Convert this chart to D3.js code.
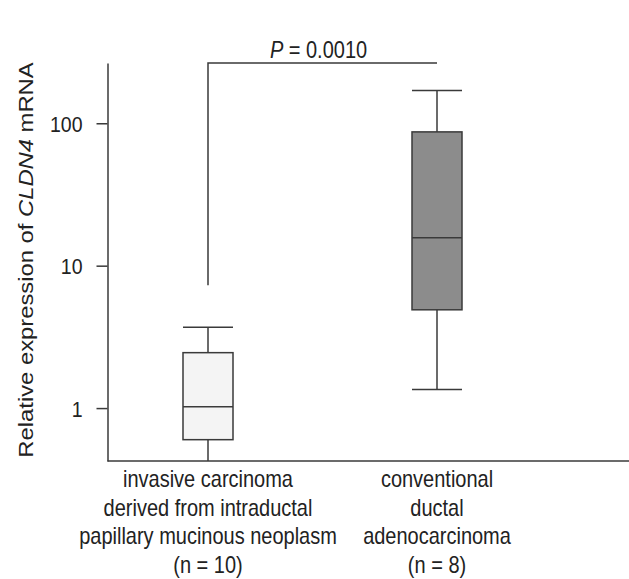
<!DOCTYPE html>
<html>
<head>
<meta charset="utf-8">
<script src="https://cdn.jsdelivr.net/npm/d3@7"></script>
<style>
  body { margin: 0; background: #fff; }
  svg text { font-family: "Liberation Sans", Arial, sans-serif; fill: #222; }
</style>
</head>
<body>
<svg id="chart" width="629" height="579"></svg>
<script>
//
// Data
//
var groups = ["IPMN", "PDAC"];
var groupLabels = [
	["invasive carcinoma", "derived from intraductal", "papillary mucinous neoplasm", "(n = 10)"],
	["conventional", "ductal", "adenocarcinoma", "(n = 8)"]
];
var whiskerLow = [0.3, 1.35];
var q1 = [0.6, 4.9];
var median = [1.02, 15.7];
var q3 = [2.45, 87];
var whiskerHigh = [3.7, 170];
var boxFill = ["#f4f4f4", "#8c8c8c"];
var yTicks = [1, 10, 100];
// bracket: left foot, right foot, top (relative expression units)
var bracketLevels = [7.3, 290, 390];
var pLabel = "0.0010";

//
// Layout
//
var svg = d3.select("#chart");
var stretch = 1.16; // glyphs in the figure are taller than wide
var axisX = 107.5;

var y = d3.scaleLog().domain([0.425, 265]).range([461, 63]).clamp(true);
var x = d3.scalePoint().domain(groups).range([208, 437]);
var boxW = 50;
var ink = "#3a3a3a";

// y axis
var yAxis = svg.append("g")
	.attr("transform", "translate(" + axisX + ",0)")
	.call(d3.axisLeft(y).tickValues(yTicks).tickFormat(d3.format("d"))
		.tickSize(11).tickSizeOuter(0).tickPadding(14));
yAxis.select(".domain").attr("stroke", ink).attr("stroke-width", 1.5);
yAxis.selectAll(".tick line").attr("stroke", ink).attr("stroke-width", 1.5);
yAxis.selectAll(".tick text")
	.attr("font-size", 19.5)
	.attr("fill", "#222")
	.each(function() {
		var t = d3.select(this);
		var tx = +t.attr("x");
		t.attr("x", 0).attr("dy", "0.36em")
			.attr("transform", "translate(" + tx + ",0) scale(1," + stretch + ")");
	});

// x axis line
svg.append("line")
	.attr("x1", axisX).attr("x2", 629)
	.attr("y1", y(y.domain()[0])).attr("y2", y(y.domain()[0]))
	.attr("stroke", ink).attr("stroke-width", 1.5);

// boxes
var box = svg.selectAll("g.box").data(groups).enter().append("g").attr("class", "box");
box.append("line")
	.attr("x1", function(d) { return x(d); }).attr("x2", function(d) { return x(d); })
	.attr("y1", function(d, i) { return y(whiskerHigh[i]); })
	.attr("y2", function(d, i) { return y(whiskerLow[i]); })
	.attr("stroke", ink).attr("stroke-width", 1.5);
box.append("rect")
	.attr("x", function(d) { return x(d) - boxW / 2; })
	.attr("width", boxW)
	.attr("y", function(d, i) { return y(q3[i]); })
	.attr("height", function(d, i) { return y(q1[i]) - y(q3[i]); })
	.attr("fill", function(d, i) { return boxFill[i]; })
	.attr("stroke", ink).attr("stroke-width", 1.5);
box.append("line")
	.attr("x1", function(d) { return x(d) - boxW / 2; })
	.attr("x2", function(d) { return x(d) + boxW / 2; })
	.attr("y1", function(d, i) { return y(median[i]); })
	.attr("y2", function(d, i) { return y(median[i]); })
	.attr("stroke", ink).attr("stroke-width", 1.5);
box.append("line") // upper cap
	.attr("x1", function(d) { return x(d) - boxW / 2; })
	.attr("x2", function(d) { return x(d) + boxW / 2; })
	.attr("y1", function(d, i) { return y(whiskerHigh[i]); })
	.attr("y2", function(d, i) { return y(whiskerHigh[i]); })
	.attr("stroke", ink).attr("stroke-width", 1.5);
box.filter(function(d, i) { return whiskerLow[i] >= y.domain()[0]; })
	.append("line") // lower cap, only when inside the plot
	.attr("x1", function(d) { return x(d) - boxW / 2; })
	.attr("x2", function(d) { return x(d) + boxW / 2; })
	.attr("y1", function(d) { var i = groups.indexOf(d); return y(whiskerLow[i]); })
	.attr("y2", function(d) { var i = groups.indexOf(d); return y(whiskerLow[i]); })
	.attr("stroke", ink).attr("stroke-width", 1.5);

// significance bracket
var bx0 = x(groups[0]), bx1 = x(groups[1]);
svg.append("path")
	.attr("d", "M" + bx0 + "," + y(bracketLevels[0]) +
		"V" + y(bracketLevels[2]) + "H" + bx1 + "V" + y(bracketLevels[1]))
	.attr("fill", "none").attr("stroke", ink).attr("stroke-width", 1.5);
var pText = svg.append("text")
	.attr("text-anchor", "middle")
	.attr("font-size", 20)
	.attr("transform", "translate(" + ((bx0 + bx1) / 2 - 4) + "," + (y(bracketLevels[2]) - 5) + ") scale(1," + stretch + ")");
pText.append("tspan").attr("font-style", "italic").text("P");
pText.append("tspan").text(" = " + pLabel);

// group labels
var lab = svg.selectAll("g.lab").data(groups).enter().append("g").attr("class", "lab");
lab.each(function(d, i) {
	var g = d3.select(this);
	groupLabels[i].forEach(function(line, k) {
		g.append("text")
			.attr("text-anchor", "middle")
			.attr("font-size", 20)
			.attr("transform", "translate(" + x(d) + "," + (487 + k * 28.7) + ") scale(1," + stretch + ")")
			.text(line);
	});
});

// y label
var yl = svg.append("text")
	.attr("text-anchor", "middle")
	.attr("font-size", 20)
	.attr("transform", "translate(33,260) rotate(-90) scale(1.19,1)");
yl.append("tspan").text("Relative expression of ");
yl.append("tspan").attr("font-style", "italic").text("CLDN4");
yl.append("tspan").text(" mRNA");
</script>
</body>
</html>
